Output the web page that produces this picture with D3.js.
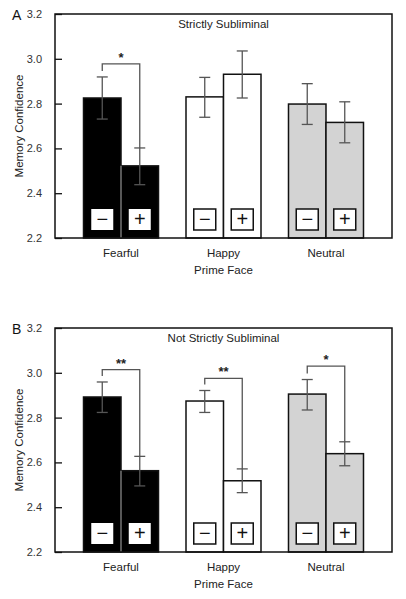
<!DOCTYPE html>
<html><head><meta charset="utf-8">
<script src="https://cdn.jsdelivr.net/npm/d3@7"></script>
<style>body{margin:0;background:#fff}svg{display:block}text{font-family:"Liberation Sans",Arial,sans-serif}</style>
</head><body>
<svg id="c" width="406" height="599"></svg>
<script>
const groups = ["Fearful", "Happy", "Neutral"];
const conditions = ["−", "+"];
const yTicks = [2.2, 2.4, 2.6, 2.8, 3.0, 3.2];
const panelLetters = ["A", "B"];
const panelTitles = ["Strictly Subliminal", "Not Strictly Subliminal"];
// means [group][condition]
const meansA = [[2.825, 2.522], [2.830, 2.931], [2.798, 2.716]];
const errLoA = [[2.731, 2.438], [2.739, 2.825], [2.707, 2.625]];
const errHiA = [[2.919, 2.602], [2.917, 3.035], [2.889, 2.808]];
const meansB = [[2.892, 2.563], [2.874, 2.518], [2.905, 2.639]];
const errLoB = [[2.823, 2.495], [2.823, 2.465], [2.834, 2.585]];
const errHiB = [[2.959, 2.627], [2.921, 2.571], [2.970, 2.692]];
const sigGroupsA = ["Fearful"], sigLabelsA = ["*"], sigLevelsA = [2.977];
const sigGroupsB = ["Fearful", "Happy", "Neutral"], sigLabelsB = ["**", "**", "*"], sigLevelsB = [3.014, 2.975, 3.030];
const fills = {Fearful: "#000", Happy: "#fff", Neutral: "#d3d3d3"};

const svg = d3.select("#c");
const X0 = 55, X1 = 392;
const x = d3.scalePoint().domain(groups).range([X0, X1]).padding(0.644);
const xs = d3.scaleBand().domain(conditions).range([-37.5, 37.5]);

function panel(top, letter, title, means, lo, hi, sg, sl, sv) {
  const bottom = top + 224;
  const y = d3.scaleLinear().domain([2.2, 3.2]).range([bottom, top]);
  const g = svg.append("g");
  const data = [];
  groups.forEach((gr, i) => conditions.forEach((c, j) => data.push({gr, c, m: means[i][j], lo: lo[i][j], hi: hi[i][j]})));
  // bars
  g.selectAll("rect.bar").data(data).join("rect")
    .attr("x", d => x(d.gr) + xs(d.c)).attr("width", xs.bandwidth())
    .attr("y", d => y(d.m)).attr("height", d => y(2.2) - y(d.m))
    .attr("fill", d => fills[d.gr]).attr("stroke", "#111").attr("stroke-width", 1.5);
  // separator for dark bars
  g.selectAll("line.sep").data(groups.filter(gr => gr === "Fearful")).join("line")
    .attr("x1", d => x(d)).attr("x2", d => x(d))
    .attr("y1", d => y(Math.min(...means[groups.indexOf(d)])) ).attr("y2", y(2.2))
    .attr("stroke", "#8a8a8a").attr("stroke-width", 1.2);
  // boxes
  const bs = 22;
  g.selectAll("rect.box").data(data).join("rect")
    .attr("x", d => x(d.gr) + xs(d.c) + xs.bandwidth() / 2 - bs / 2).attr("width", bs)
    .attr("y", bottom - 8 - 21).attr("height", 21)
    .attr("fill", "#fff").attr("stroke", d => d.gr === "Fearful" ? "none" : "#111").attr("stroke-width", 1.5);
  g.selectAll("text.sign").data(data).join("text")
    .attr("x", d => x(d.gr) + xs(d.c) + xs.bandwidth() / 2).attr("y", bottom - 8 - 10.5 + 6.5)
    .attr("text-anchor", "middle").attr("font-size", 20).attr("fill", "#111")
    .text(d => d.c);
  // error bars
  const eb = g.selectAll("g.eb").data(data).join("g").attr("stroke", "#555").attr("stroke-width", 1.3);
  const cx = d => x(d.gr) + xs(d.c) + xs.bandwidth() / 2;
  eb.append("line").attr("x1", cx).attr("x2", cx).attr("y1", d => y(d.lo)).attr("y2", d => y(d.hi));
  eb.append("line").attr("x1", d => cx(d) - 5.5).attr("x2", d => cx(d) + 5.5).attr("y1", d => y(d.lo)).attr("y2", d => y(d.lo));
  eb.append("line").attr("x1", d => cx(d) - 5.5).attr("x2", d => cx(d) + 5.5).attr("y1", d => y(d.hi)).attr("y2", d => y(d.hi));
  // significance brackets
  sg.forEach((gr, k) => {
    const i = groups.indexOf(gr);
    const xl = x(gr) + xs("−") + xs.bandwidth() / 2, xr = x(gr) + xs("+") + xs.bandwidth() / 2;
    const yb = y(sv[k]);
    g.append("path").attr("fill", "none").attr("stroke", "#555").attr("stroke-width", 1.3)
      .attr("d", `M${xl},${y(hi[i][0]) - 6}V${yb}H${xr}V${y(hi[i][1])}`);
    g.append("text").attr("x", (xl + xr) / 2).attr("y", yb - 2).attr("text-anchor", "middle")
      .attr("font-size", 13).attr("font-weight", "bold").attr("fill", "#222").text(sl[k]);
  });
  // frame
  g.append("rect").attr("x", X0).attr("y", top).attr("width", X1 - X0).attr("height", 224)
    .attr("fill", "none").attr("stroke", "#111").attr("stroke-width", 1.5);
  // y axis
  const ax = g.append("g").attr("transform", `translate(${X0},0)`)
    .call(d3.axisLeft(y).tickValues(yTicks).tickFormat(d3.format(".1f")).tickSizeInner(-7).tickSizeOuter(0).tickPadding(13));
  ax.select(".domain").remove();
  ax.selectAll("line").attr("stroke", "#111").attr("stroke-width", 1.3);
  ax.selectAll("text").attr("font-size", 11).attr("fill", "#333").attr("font-family", "Liberation Sans, Arial, sans-serif");
  // labels
  g.selectAll("text.cat").data(groups).join("text")
    .attr("x", d => x(d)).attr("y", bottom + 19).attr("text-anchor", "middle")
    .attr("font-size", 11.5).attr("fill", "#222").text(d => d);
  g.append("text").attr("x", x("Happy")).attr("y", bottom + 36).attr("text-anchor", "middle")
    .attr("font-size", 11.5).attr("fill", "#222").text("Prime Face");
  g.append("text").attr("x", (X0 + X1) / 2).attr("y", top + 13.5).attr("text-anchor", "middle")
    .attr("font-size", 11.5).attr("fill", "#222").text(title);
  g.append("text").attr("x", 12).attr("y", top + 6).attr("font-size", 14).attr("fill", "#111").text(letter);
  g.append("text").attr("transform", `translate(23,${(top + bottom) / 2}) rotate(-90)`).attr("text-anchor", "middle")
    .attr("font-size", 11.5).attr("fill", "#222").text("Memory Confidence");
}
panel(14, panelLetters[0], panelTitles[0], meansA, errLoA, errHiA, sigGroupsA, sigLabelsA, sigLevelsA);
panel(328, panelLetters[1], panelTitles[1], meansB, errLoB, errHiB, sigGroupsB, sigLabelsB, sigLevelsB);
</script>
</body></html>
